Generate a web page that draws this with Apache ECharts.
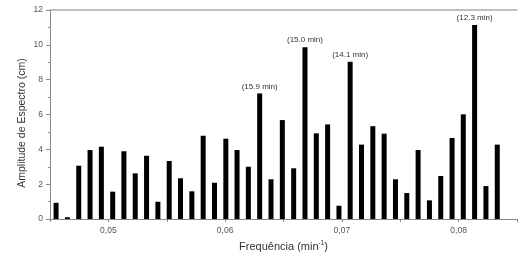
<!DOCTYPE html>
<html>
<head>
<meta charset="utf-8">
<script src="https://cdn.jsdelivr.net/npm/echarts@6/dist/echarts.min.js"></script>
<style>html,body{margin:0;padding:0;background:#fff}#c{width:520px;height:258px}</style>
</head>
<body>
<div id="c"></div>
<script>
var frequencies = [0.04552,0.04649,0.04746,0.04843,0.04940,0.05037,0.05133,0.05230,0.05327,0.05424,
  0.05521,0.05618,0.05715,0.05812,0.05909,0.06006,0.06102,0.06199,0.06296,0.06393,
  0.06490,0.06587,0.06684,0.06781,0.06878,0.06975,0.07071,0.07168,0.07265,0.07362,
  0.07459,0.07556,0.07653,0.07750,0.07847,0.07944,0.08040,0.08137,0.08234,0.08331];
var amplitudes = [0.93,0.1,3.06,3.96,4.15,1.57,3.89,2.62,3.63,0.99,
  3.33,2.34,1.59,4.78,2.08,4.61,3.96,3.0,7.21,2.28,
  5.68,2.91,9.86,4.92,5.43,0.76,9.03,4.27,5.33,4.9,
  2.28,1.49,3.96,1.07,2.47,4.65,6.01,11.14,1.89,4.27];
var peakIndex = [18, 22, 26, 37];
var peakLabels = ['(15.9 min)', '(15.0 min)', '(14.1 min)', '(12.3 min)'];
var xTicks = [0.05, 0.06, 0.07, 0.08];
var yTicks = [0, 2, 4, 6, 8, 10, 12];
var yTitle = 'Amplitude de Espectro (cm)';

var font = '"Liberation Sans", Arial, sans-serif';
var data = frequencies.map(function (f, i) {
  var item = { value: [f, amplitudes[i]] };
  var p = peakIndex.indexOf(i);
  if (p >= 0) {
    item.label = { show: true, position: 'top', distance: 3, formatter: peakLabels[p],
      fontSize: 8, color: '#333', fontFamily: font };
  }
  return item;
});

var chart = echarts.init(document.getElementById('c'), null, { renderer: 'canvas' });
chart.setOption({
  animation: false,
  backgroundColor: '#fff',
  grid: { left: 50, right: 0, top: 10, bottom: 39, containLabel: false },
  graphic: [{
    type: 'text', x: 22.5, y: 123, rotation: Math.PI / 2,
    style: { text: yTitle, fontSize: 10.5, fill: '#333', fontFamily: font,
      align: 'center', verticalAlign: 'middle' }
  }],
  xAxis: [{
    type: 'value', min: 0.045, max: 0.085, interval: 0.005,
    axisLine: { lineStyle: { color: '#888', width: 1 } },
    axisTick: { show: true, length: 3, inside: false, lineStyle: { color: '#888' } },
    splitLine: { show: false },
    axisLabel: {
      fontSize: 8.5, color: '#555', fontFamily: font, margin: 7,
      formatter: function (v) {
        for (var i = 0; i < xTicks.length; i++) {
          if (Math.abs(v - xTicks[i]) < 1e-6) return xTicks[i].toFixed(2).replace('.', ',');
        }
        return '';
      }
    },
    name: 'Frequência (min{sup|-1})',
    nameLocation: 'middle', nameGap: 21,
    nameTextStyle: { fontSize: 11, color: '#333', fontFamily: font,
      rich: { sup: { fontSize: 6.5, color: '#333', fontFamily: font, padding: [0, 0, 6, 0] } } }
  }, {
    type: 'value', position: 'top', min: 0.045, max: 0.085,
    axisLine: { show: true, onZero: false, lineStyle: { color: '#aaa', width: 1.5 } },
    axisTick: { show: false }, axisLabel: { show: false }, splitLine: { show: false }
  }],
  yAxis: {
    type: 'value', min: 0, max: 12, interval: 2,
    axisLine: { show: true, lineStyle: { color: '#888', width: 1 } },
    axisTick: { show: true, length: 4, lineStyle: { color: '#888' } },
    minorTick: { show: true, splitNumber: 2, length: 2, lineStyle: { color: '#888' } },
    splitLine: { show: false },
    axisLabel: { fontSize: 8.5, color: '#555', fontFamily: font, margin: 7,
      formatter: function (v) { return yTicks.indexOf(v) >= 0 ? String(v) : ''; } }
  },
  series: [{
    type: 'bar', xAxisIndex: 0, data: data, barWidth: 5,
    itemStyle: { color: '#000' }
  }]
});
</script>
</body>
</html>
